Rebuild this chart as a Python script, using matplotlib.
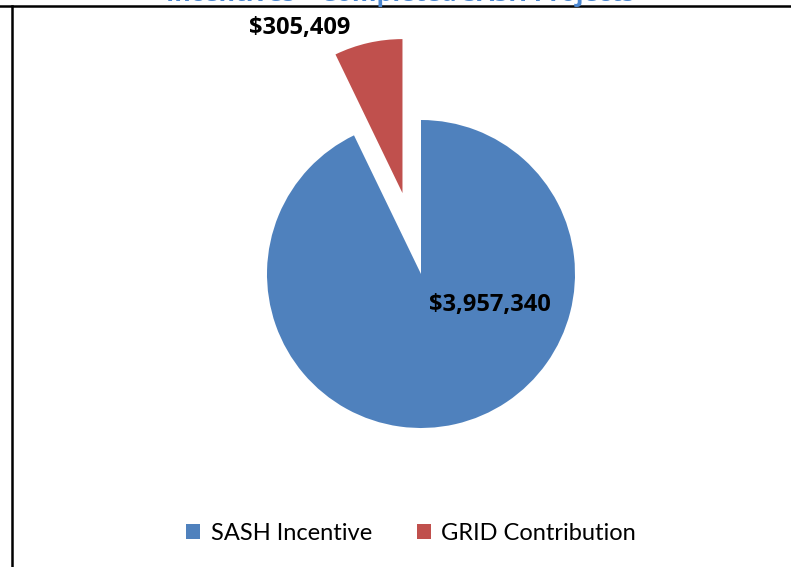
import matplotlib
matplotlib.use("Agg")
import matplotlib.pyplot as plt
from matplotlib.lines import Line2D

categories = ["SASH Incentive", "GRID Contribution"]
values = [3957340, 305409]
value_labels = ["$3,957,340", "$305,409"]
colors = ["#4F81BD", "#C0504D"]
title = "Incentives – Completed SASH Projects"

W, H = 791, 567
fig = plt.figure(figsize=(W / 100, H / 100), dpi=100)
fig.patch.set_facecolor("white")
ax = fig.add_axes([0, 0, 1, 1])

cx, cy, r = 421, H - 274, 154
wedges, _ = ax.pie(values, colors=colors, startangle=90, counterclock=False,
                   center=(cx, cy), radius=r, explode=[0, 83],
                   wedgeprops=dict(linewidth=0), frame=True)
ax.set_xlim(0, W)
ax.set_ylim(0, H)
ax.set_aspect("equal")
ax.axis("off")

bold_font = ["Open Sans", "DejaVu Sans"]
font = ["Lato", "DejaVu Sans"]
ax.text(490, H - 305, value_labels[0], ha="center", va="center",
        fontsize=17, fontweight="bold", family=bold_font, color="black")
ax.text(300, H - 28, value_labels[1], ha="center", va="center",
        fontsize=17, fontweight="bold", family=bold_font, color="black")

# title (mostly cropped at top, as in the reference)
fig.text(400 / W, 1 - 1 / H, title, ha="center", va="baseline",
         fontsize=18, fontweight="bold", family=bold_font, color="#4A86D0")

leg = ax.legend(wedges, categories, loc="center", bbox_to_anchor=(411 / W, 1 - 533 / H),
                bbox_transform=fig.transFigure, ncol=2, frameon=False,
                prop=dict(family=font, size=17), handlelength=0.6, handleheight=0.6,
                handletextpad=0.45, columnspacing=1.9)

# border lines
fig.add_artist(Line2D([0, 1], [1 - 6 / H, 1 - 6 / H], transform=fig.transFigure,
                      color="black", lw=1.8))
fig.add_artist(Line2D([11.5 / W, 11.5 / W], [0, 1 - 6 / H], transform=fig.transFigure,
                      color="black", lw=1.8))

fig.savefig("out.png", dpi=100, facecolor="white")
